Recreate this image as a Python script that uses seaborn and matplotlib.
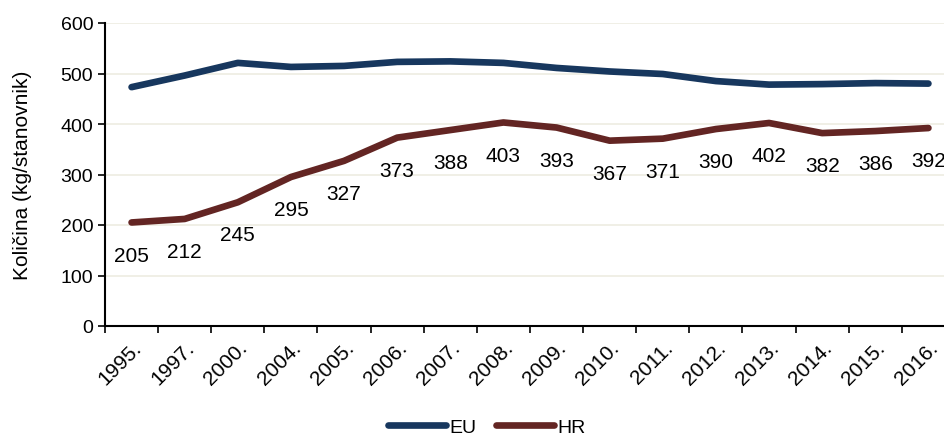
import pandas as pd
import matplotlib.pyplot as plt
import seaborn as sns

# --- data ---
years = ['1995.', '1997.', '2000.', '2004.', '2005.', '2006.', '2007.', '2008.',
         '2009.', '2010.', '2011.', '2012.', '2013.', '2014.', '2015.', '2016.']
eu = [473, 496, 521, 513, 515, 523, 524, 521, 511, 504, 499, 485, 478, 479, 481, 480]
hr = [205, 212, 245, 295, 327, 373, 388, 403, 393, 367, 371, 390, 402, 382, 386, 392]

eu_color = '#17375E'
hr_color = '#632523'

df = pd.DataFrame({'x': list(range(len(years))) * 2,
                   'val': eu + hr,
                   'serija': ['EU'] * len(years) + ['HR'] * len(years)})

sns.set_style('white')
plt.rcParams['font.family'] = ['Liberation Sans', 'DejaVu Sans']
plt.rcParams['text.color'] = 'black'
plt.rcParams['axes.labelcolor'] = 'black'
plt.rcParams['xtick.color'] = 'black'
plt.rcParams['ytick.color'] = 'black'

fig = plt.figure(figsize=(9.45, 4.39), dpi=100)
ax = fig.add_axes([105 / 945, 112 / 439, 850 / 945, 303 / 439])

sns.lineplot(data=df, x='x', y='val', hue='serija', palette=[eu_color, hr_color],
             linewidth=4.8, ax=ax, legend=False, solid_capstyle='round')

# oznake vrijednosti za HR
for i, v in enumerate(hr):
    ax.annotate(str(v), (i, v), xytext=(0, -23.5), textcoords='offset points',
                ha='center', va='center', fontsize=15, color='black')

ax.set_xlim(-0.5, len(years) - 0.5)
ax.set_ylim(0, 600)
ax.set_yticks(range(0, 601, 100))
ax.yaxis.grid(True, color='#EEECE1', linewidth=1.2)
ax.set_axisbelow(True)

ax.set_xticks(range(len(years)))
ax.set_xticklabels(years, rotation=45, ha='right', rotation_mode='anchor', fontsize=15)
ax.set_xticks([i + 0.5 for i in range(-1, len(years))], minor=True)
ax.tick_params(axis='x', which='major', length=0, pad=8)
ax.tick_params(axis='x', which='minor', length=5, width=1.2, color='black', direction='out', bottom=True)
ax.tick_params(axis='y', length=5, width=1.2, color='black', direction='out', left=True, labelsize=14)

for s in ['top', 'right']:
    ax.spines[s].set_visible(False)
for s in ['left', 'bottom']:
    ax.spines[s].set_color('black')
    ax.spines[s].set_linewidth(1.5)

ax.set_xlabel('')
ax.set_ylabel('Količina (kg/stanovnik)', fontsize=15)
ax.yaxis.set_label_coords(-0.086, 0.5)

handles = [plt.Line2D([], [], color=eu_color, lw=4.8, solid_capstyle='round'),
           plt.Line2D([], [], color=hr_color, lw=4.8, solid_capstyle='round')]
fig.legend(handles, ['EU', 'HR'], loc='lower center', bbox_to_anchor=(0.515, -0.035),
           ncol=2, frameon=False, fontsize=14, handlelength=3.0, handletextpad=0.15,
           columnspacing=1.0)

fig.savefig('out.png', dpi=100)
